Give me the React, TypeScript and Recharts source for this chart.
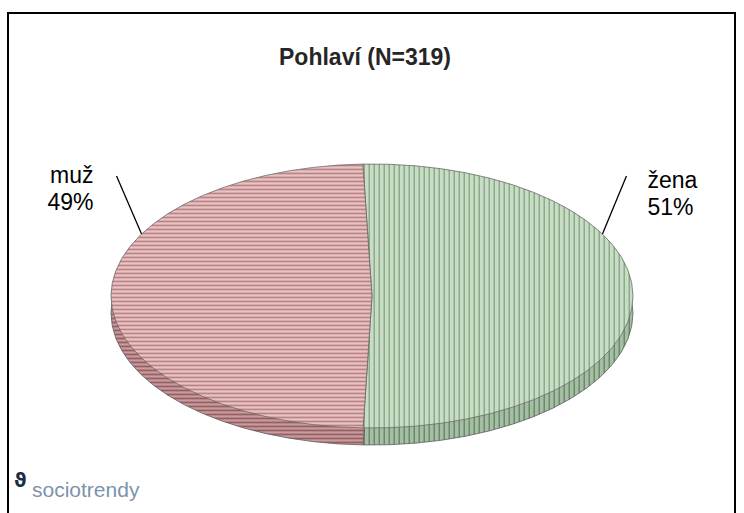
import { Cell, Pie, PieChart } from "recharts"

// Pohlaví respondentů (N=319)
const categories = ["žena", "muž"]
const counts = [163, 156]
const title = "Pohlaví (N=319)"

const topFills = ["url(#greenTop)", "url(#pinkTop)"]
const sideFills = ["url(#greenSide)", "url(#pinkSide)"]

// where each leader line touches the rim (degrees, counter-clockwise from 3 o'clock)
const labelAngles = [28, 152]

const CX = 372
const CY = 296
const R = 261
const RATIO = 132 / 261
const DEPTH = 17
const RAD = Math.PI / 180

const data = categories.map((name, i) => ({ name, value: counts[i] }))

// the pie is drawn as a circle and squashed into an ellipse here
const css = `
.pie-top { transform-origin: ${CX}px ${CY}px; transform: scaleY(${RATIO}); }
.pie-side { transform-origin: ${CX}px ${CY}px; transform: translateY(${DEPTH}px) scaleY(${RATIO}); }
.pie-top .pie-top, .pie-side .pie-side { transform: none; }
.pie-top path, .pie-side path { vector-effect: non-scaling-stroke; }
`

function renderLabel(props: any) {
  const { cx, cy, outerRadius, index, name, percent } = props
  const a = labelAngles[index] * RAD
  const ex = cx + outerRadius * Math.cos(a)
  const ey = cy - outerRadius * RATIO * Math.sin(a)
  const right = Math.cos(a) > 0
  const ox = ex + (right ? 24 : -25)
  const oy = ey - 58
  const tx = right ? ex + 45 : ex - 48
  const ty = right ? ey - 46 : ey - 51
  return (
    <g key={`lbl-${index}`}>
      <line x1={ex} y1={ey} x2={ox} y2={oy} stroke="#000" strokeWidth={1.3} />
      <text
        x={tx}
        y={ty}
        textAnchor={right ? "start" : "end"}
        fontSize={23}
        fontFamily="Arial, 'Liberation Sans', sans-serif"
        fill="#000"
      >
        <tspan x={tx}>{name}</tspan>
        <tspan x={tx} dy={27}>{`${Math.round(percent * 100)}%`}</tspan>
      </text>
    </g>
  )
}

export default function App() {
  const stretch = `scale(1 ${1 / RATIO})`
  return (
    <div
      style={{
        position: "absolute",
        left: 0,
        top: 0,
        width: 744,
        height: 513,
        overflow: "hidden",
        background: "#fff",
        fontFamily: "Arial, 'Liberation Sans', sans-serif",
      }}
    >
      <style>{css}</style>

      <svg width={0} height={0} style={{ position: "absolute" }}>
        <defs>
          <pattern id="pinkTop" width={4} height={4} patternUnits="userSpaceOnUse" patternTransform={stretch}>
            <rect width={4} height={4} fill="#e9c4c5" />
            <rect y={2.5} width={4} height={1.5} fill="#b5797d" />
          </pattern>
          <pattern id="greenTop" width={5} height={5} patternUnits="userSpaceOnUse">
            <rect width={5} height={5} fill="#c8dcc6" />
            <rect x={3.5} width={1.5} height={5} fill="#8aac8b" />
          </pattern>
          <pattern id="pinkSide" width={4} height={4} patternUnits="userSpaceOnUse" patternTransform={stretch}>
            <rect width={4} height={4} fill="#c99b9e" />
            <rect y={2.5} width={4} height={1.5} fill="#8c5659" />
          </pattern>
          <pattern id="greenSide" width={5} height={5} patternUnits="userSpaceOnUse">
            <rect width={5} height={5} fill="#a6bfa4" />
            <rect x={3.5} width={1.5} height={5} fill="#6a8a6b" />
          </pattern>
        </defs>
      </svg>

      <div
        style={{
          position: "absolute",
          left: 7,
          top: 12,
          width: 729,
          height: 560,
          border: "2px solid #000",
          boxSizing: "border-box",
        }}
      />

      <div style={{ position: "absolute", left: 0, top: 0 }}>
        <PieChart width={744} height={513} margin={{ top: 0, right: 0, bottom: 0, left: 0 }}>
          <Pie
            data={data}
            dataKey="value"
            nameKey="name"
            cx={CX}
            cy={CY}
            outerRadius={R}
            startAngle={92}
            endAngle={-268}
            className="pie-side"
            stroke="#5e5e5e"
            strokeWidth={0.8}
            isAnimationActive={false}
          >
            {data.map((d, i) => (
              <Cell key={d.name} fill={sideFills[i]} />
            ))}
          </Pie>
          <Pie
            data={data}
            dataKey="value"
            nameKey="name"
            cx={CX}
            cy={CY}
            outerRadius={R}
            startAngle={92}
            endAngle={-268}
            className="pie-top"
            stroke="#6a6a6a"
            strokeWidth={0.8}
            isAnimationActive={false}
          >
            {data.map((d, i) => (
              <Cell key={d.name} fill={topFills[i]} />
            ))}
          </Pie>
          <Pie
            data={data}
            dataKey="value"
            nameKey="name"
            cx={CX}
            cy={CY}
            outerRadius={R}
            startAngle={92}
            endAngle={-268}
            fill="none"
            stroke="none"
            label={renderLabel}
            labelLine={false}
            isAnimationActive={false}
          >
            {data.map((d) => (
              <Cell key={d.name} fill="none" stroke="none" />
            ))}
          </Pie>
        </PieChart>
      </div>

      <svg
        width={744}
        height={513}
        style={{ position: "absolute", left: 0, top: 0, pointerEvents: "none" }}
      >
        <text
          x={365}
          y={65}
          textAnchor="middle"
          fontSize={23}
          fontWeight="bold"
          fill="#262626"
          fontFamily="Arial, 'Liberation Sans', sans-serif"
        >
          {title}
        </text>
        <text x={14} y={487} fontSize={19} fontWeight="bold" fill="#1c2b45" fontFamily="'DejaVu Sans', sans-serif">
          ϑ
        </text>
        <text x={32} y={497} fontSize={21} fill="#7d93ab" fontFamily="'Liberation Sans', Arial, sans-serif">
          sociotrendy
        </text>
      </svg>
    </div>
  )
}
